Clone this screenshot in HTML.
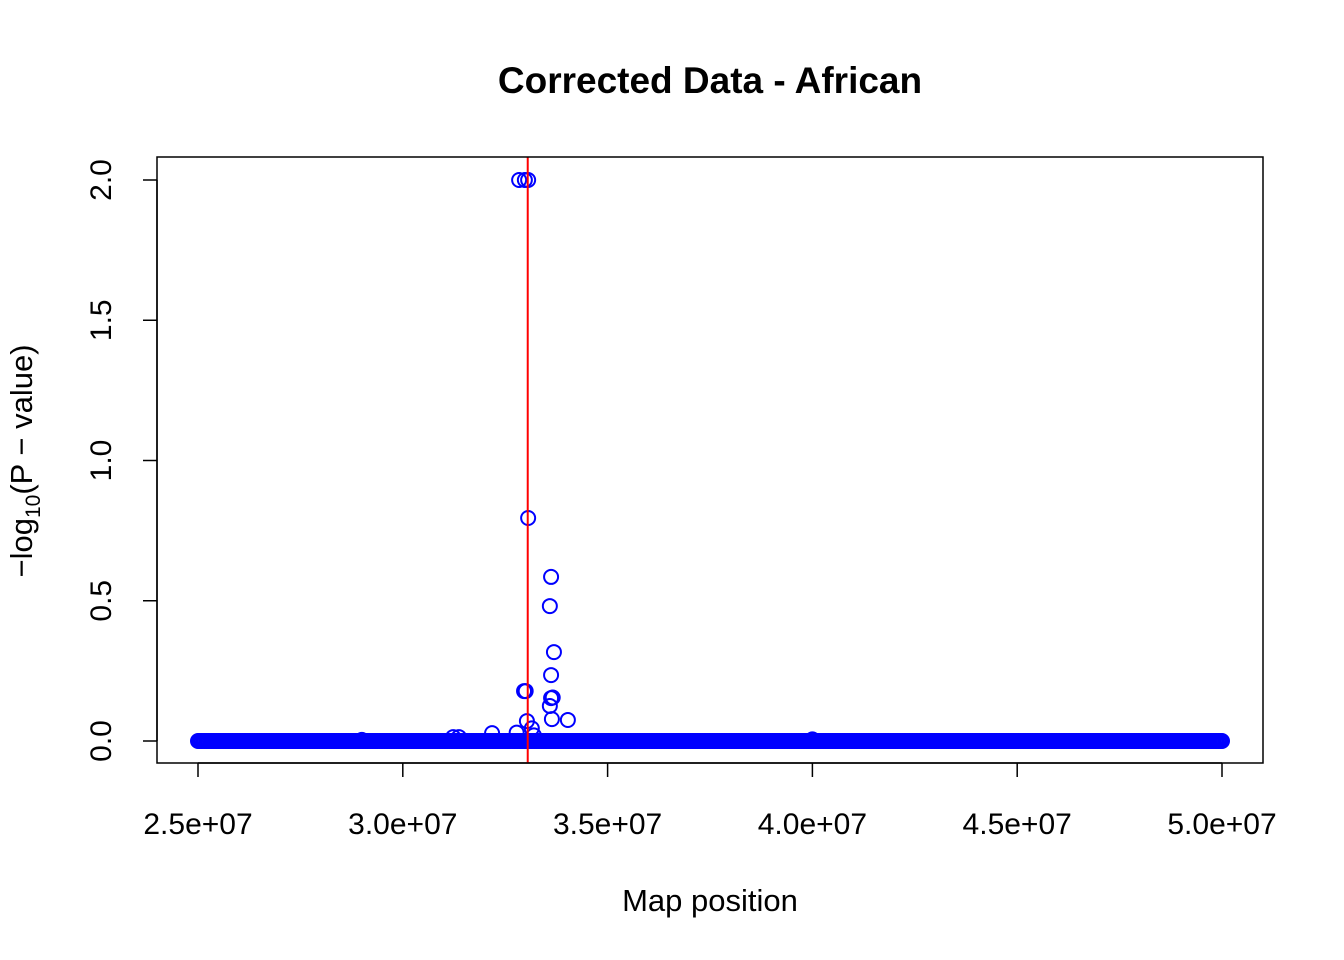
<!DOCTYPE html>
<html><head><meta charset="utf-8"><style>body{margin:0;background:#fff}svg{display:block;font-family:"Liberation Sans",Arial,sans-serif}</style></head>
<body>
<svg id="chart" width="1344" height="960" viewBox="0 0 1344 960">
<rect width="1344" height="960" fill="#fff"/>
<text x="710" y="93" text-anchor="middle" font-size="37" font-weight="bold">Corrected Data - African</text>
<g id="axes"></g>
<g id="points"></g>
<line id="vline" stroke="#ff0000" stroke-width="2"/>
<rect x="157" y="157" width="1106" height="606" fill="none" stroke="#000" stroke-width="1.5"/>
<text x="710" y="911" text-anchor="middle" font-size="31">Map position</text>
<text transform="translate(32,461) rotate(-90)" text-anchor="middle" font-size="31">−log<tspan font-size="21" dy="8">10</tspan><tspan dy="-8">(P − value)</tspan></text>
</svg>
<script>
const positions = [32.84e6,32.98e6,33.06e6,33.06e6,33.62e6,33.59e6,33.69e6,33.62e6,32.96e6,33.0e6,33.62e6,33.66e6,33.59e6,33.64e6,34.03e6,33.03e6,33.15e6,32.78e6,32.18e6,31.23e6,31.37e6,29.0e6,40.0e6,33.2e6];
const pvalues = [2.0,2.0,2.0,0.795,0.585,0.481,0.317,0.235,0.178,0.178,0.153,0.155,0.125,0.078,0.075,0.071,0.045,0.03,0.028,0.014,0.014,0.004,0.006,0.02];
const baselineStart = 25.0e6, baselineEnd = 50.0e6, baselineCount = 600;
const markerPos = 33.05e6;
const xTicks = [2.5e7,3.0e7,3.5e7,4.0e7,4.5e7,5.0e7];
const xTickLabels = ["2.5e+07","3.0e+07","3.5e+07","4.0e+07","4.5e+07","5.0e+07"];
const yTicks = [0,0.5,1.0,1.5,2.0];
const yTickLabels = ["0.0","0.5","1.0","1.5","2.0"];

const xs = v => 198 + (v - 2.5e7) * (1024 / 2.5e7);
const ys = v => 741 - v * 280.5;
const NS = "http://www.w3.org/2000/svg";
const axes = document.getElementById('axes');
const pts = document.getElementById('points');
function mk(tag, attrs, parent){const e=document.createElementNS(NS,tag);for(const k in attrs)e.setAttribute(k,attrs[k]);parent.appendChild(e);return e;}

const xl = mk('line',{x1:xs(xTicks[0]),x2:xs(xTicks[xTicks.length-1]),y1:763,y2:763,stroke:'#000','stroke-width':1.5},axes);


xTicks.forEach((t,i)=>{
  const l = mk('line',{x1:xs(t),x2:xs(t),y1:763,y2:777,stroke:'#000','stroke-width':1.5},axes);
  
  
  const tx = mk('text',{x:xs(t),y:834,'text-anchor':'middle','font-size':30},axes);
  
  
  tx.textContent = xTickLabels[i];
});
const yl = mk('line',{x1:157,x2:157,y1:ys(yTicks[0]),y2:ys(yTicks[yTicks.length-1]),stroke:'#000','stroke-width':1.5},axes);


yTicks.forEach((t,i)=>{
  const l = mk('line',{x1:143,x2:157,y1:ys(t),y2:ys(t),stroke:'#000','stroke-width':1.5},axes);
  
  
  const tx = mk('text',{transform:`translate(111,${ys(t)}) rotate(-90)`,'text-anchor':'middle','font-size':30},axes);
  
  
  tx.textContent = yTickLabels[i];
});

for(let i=0;i<baselineCount;i++){
  const p = baselineStart + (baselineEnd-baselineStart)*i/(baselineCount-1);
  const c = mk('circle',{cx:xs(p),cy:ys(0),r:7,fill:'none',stroke:'#0000ff','stroke-width':2},pts);
  
  
}
positions.forEach((p,i)=>{
  const c = mk('circle',{cx:xs(p),cy:ys(pvalues[i]),r:7,fill:'none',stroke:'#0000ff','stroke-width':2},pts);
  
  
});
const vl = document.getElementById('vline');
vl.setAttribute('x1',xs(markerPos));vl.setAttribute('x2',xs(markerPos));
vl.setAttribute('y1',157);vl.setAttribute('y2',763);
</script>
</body></html>
